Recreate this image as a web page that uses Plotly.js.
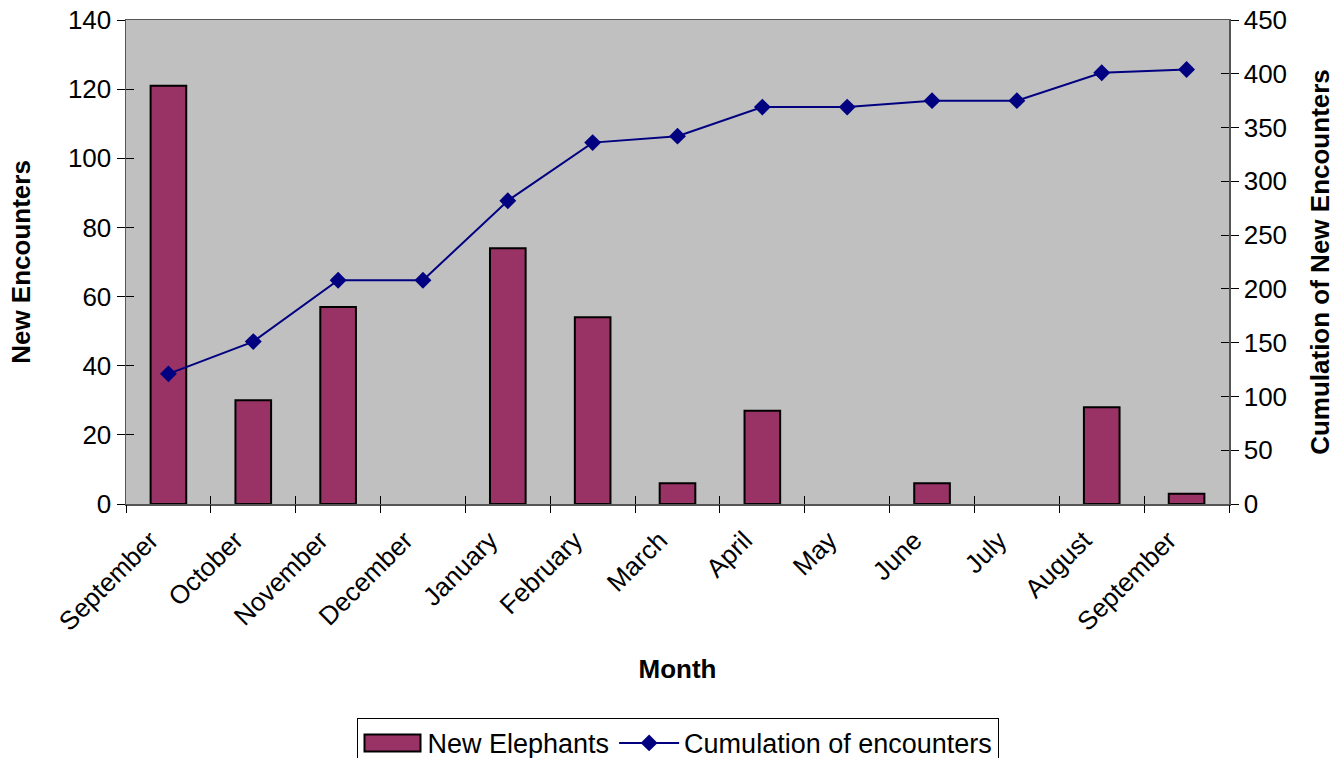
<!DOCTYPE html>
<html>
<head>
<meta charset="utf-8">
<script src="https://cdn.plot.ly/plotly-3.0.1.min.js"></script>
<style>html,body{margin:0;padding:0;background:#fff;}#chart{width:1343px;height:758px;}</style>
</head>
<body>
<div id="chart"></div>
<script>
const months = ["September","October","November","December","January","February","March","April","May","June","July","August","September"];
const newElephants = [121, 30, 57, 0, 74, 54, 6, 27, 0, 6, 0, 28, 3];
const cumulation = [121, 151, 208, 208, 282, 336, 342, 369, 369, 375, 375, 401, 404];
const leftTicks = [0, 20, 40, 60, 80, 100, 120, 140];
const rightTicks = [0, 50, 100, 150, 200, 250, 300, 350, 400, 450];

const idx = months.map((m, i) => i);
const labelPos = idx.map(i => i - 0.21);
const boundaries = months.map((m, i) => i - 0.5).concat([months.length - 0.5]);
const xRange = [-0.5, months.length - 0.5];
const font = "Liberation Sans, Arial, sans-serif";
const FS = 26;

const traces = [
  {
    type: "bar", name: "New Elephants", x: idx, y: newElephants,
    width: 0.42,
    marker: {color: "#993366", line: {color: "#000000", width: newElephants.map(v => v === 0 ? 0 : 2)}},
    xaxis: "x", yaxis: "y"
  },
  {
    type: "scatter", mode: "lines+markers", name: "Cumulation of encounters",
    x: idx, y: cumulation,
    line: {color: "#000080", width: 2},
    marker: {symbol: "diamond", size: 13, color: "#000080"},
    xaxis: "x", yaxis: "y2"
  }
];

const layout = {
  width: 1343, height: 758,
  margin: {l: 126, r: 114, t: 20, b: 254, autoexpand: false},
  paper_bgcolor: "#ffffff", plot_bgcolor: "#C0C0C0",
  font: {family: font, size: FS, color: "#000"},
  showlegend: true,
  bargap: 0,
  xaxis: {
    range: xRange, tickmode: "array", tickvals: idx, ticktext: months.map(() => ""),
    ticks: "", showgrid: false, zeroline: false,
    showline: true, linecolor: "#555", linewidth: 1.5, mirror: true,
    showticklabels: false, automargin: false
  },
  xaxis4: {
    overlaying: "x", anchor: "y", range: xRange, tickmode: "array", tickvals: labelPos, ticktext: months,
    tickangle: -45, ticks: "", showgrid: false, zeroline: false, showline: false,
    tickfont: {family: font, size: FS}, ticklabelstandoff: 15,
    title: {text: "<b>Month</b>", font: {family: font, size: FS}, standoff: 24},
    automargin: false
  },
  xaxis2: {
    overlaying: "x", range: xRange, tickmode: "array", tickvals: boundaries,
    ticks: "outside", ticklen: 8, tickcolor: "#000", tickwidth: 1,
    showticklabels: false, showgrid: false, zeroline: false, showline: false,
    anchor: "y"
  },
  xaxis3: {
    overlaying: "x", range: xRange, tickmode: "array", tickvals: boundaries,
    ticks: "inside", ticklen: 8, tickcolor: "#000", tickwidth: 1,
    showticklabels: false, showgrid: false, zeroline: false, showline: false,
    anchor: "y"
  },
  yaxis: {
    range: [0, 140], tickmode: "array", tickvals: leftTicks,
    ticks: "outside", ticklen: 8, tickcolor: "#000", showgrid: false, zeroline: false,
    showline: true, linecolor: "#555", linewidth: 1.5,
    tickfont: {family: font, size: FS},
    title: {text: "<b>New Encounters</b>", font: {family: font, size: FS}, standoff: 30},
    automargin: false
  },
  yaxis3: {
    overlaying: "y", range: [0, 140], tickmode: "array", tickvals: leftTicks,
    ticks: "inside", ticklen: 8, tickcolor: "#000", showticklabels: false,
    showgrid: false, zeroline: false, showline: false
  },
  yaxis2: {
    overlaying: "y", side: "right", range: [0, 450], tickmode: "array", tickvals: rightTicks,
    ticks: "outside", ticklen: 8, tickcolor: "#000", showgrid: false, zeroline: false,
    showline: true, linecolor: "#555", linewidth: 1.5,
    tickfont: {family: font, size: FS},
    title: {text: "<b>Cumulation of New Encounters</b>", font: {family: font, size: FS}, standoff: 24},
    automargin: false
  },
  yaxis4: {
    overlaying: "y", side: "right", range: [0, 450], tickmode: "array", tickvals: rightTicks,
    ticks: "inside", ticklen: 8, tickcolor: "#000", showticklabels: false,
    showgrid: false, zeroline: false, showline: false
  },
  legend: {
    orientation: "h", xref: "paper", x: 0.5, xanchor: "center",
    yref: "container", y: 0.053, yanchor: "top",
    bgcolor: "#ffffff", bordercolor: "#000", borderwidth: 1,
    font: {family: font, size: 27}, itemwidth: 60, traceorder: "normal"
  }
};

traces.push({type: "scatter", x: [], y: [], xaxis: "x2", yaxis: "y", showlegend: false, hoverinfo: "skip"});
traces.push({type: "scatter", x: [], y: [], xaxis: "x3", yaxis: "y3", showlegend: false, hoverinfo: "skip"});
traces.push({type: "scatter", x: [], y: [], xaxis: "x4", yaxis: "y", showlegend: false, hoverinfo: "skip"});
traces.push({type: "scatter", x: [], y: [], xaxis: "x", yaxis: "y4", showlegend: false, hoverinfo: "skip"});

const gd = document.getElementById("chart");
Plotly.newPlot(gd, traces, layout, {displayModeBar: false, staticPlot: true}).then(() => {
  const items = gd.querySelectorAll(".legend .traces");
  if (items.length) {
    const p = items[0].querySelector(".legendpoints path");
    if (p) {
      p.setAttribute("d", "M-28,-8.5H28V8.5H-28Z");
      p.style.stroke = "#000";
      p.style.strokeWidth = "2px";
    }
  }
});
</script>
</body>
</html>
